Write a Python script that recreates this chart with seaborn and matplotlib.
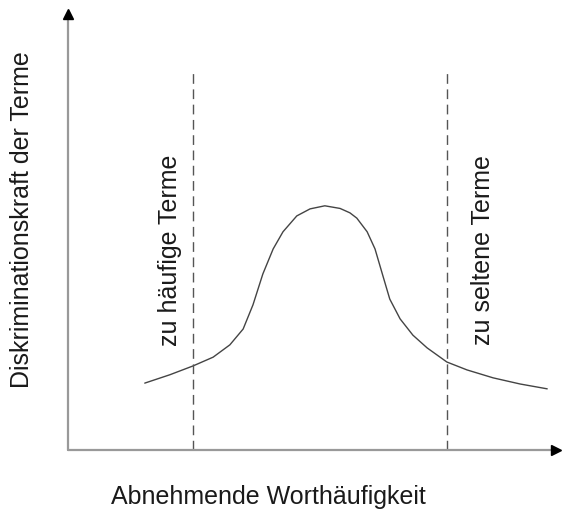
import numpy as np
import pandas as pd
import matplotlib.pyplot as plt
import seaborn as sns

# curve (x: word frequency rank, y: discrimination power), 0..100 scale
rank = [15.6, 20.7, 25.4, 29.5, 32.9, 35.6, 37.6, 39.6, 41.7, 43.7, 46.5,
        49.2, 52.2, 55.3, 57.3, 58.7, 60.8, 62.4, 64.0, 65.4, 67.5, 70.1,
        73.0, 77.0, 81.1, 86.4, 91.9, 97.4]
power = [15.2, 17.1, 19.1, 21.1, 23.9, 27.5, 33.0, 40.0, 45.7, 49.6, 53.2,
         54.8, 55.5, 54.9, 53.9, 52.7, 49.6, 45.7, 39.6, 34.3, 29.8, 26.1,
         23.2, 20.0, 18.2, 16.4, 15.0, 13.9]
cutoffs = [25.4, 77.0]
cutoff_top = 85.9
cutoff_labels = ['zu häufige Terme', 'zu seltene Terme']
label_x = ['Abnehmende Worthäufigkeit']
label_y = ['Diskriminationskraft der Terme']

df = pd.DataFrame({'rank': rank, 'power': power})

sns.set_style('white')
plt.rcParams['font.family'] = ['Liberation Sans', 'DejaVu Sans']

W, H = 565, 513
fig = plt.figure(figsize=(W / 100, H / 100), dpi=100)
ax = fig.add_axes([68 / W, (H - 450) / H, (560 - 68) / W, (450 - 10) / H])

sns.lineplot(data=df, x='rank', y='power', color='#444444', linewidth=1.0, ax=ax)
for c in cutoffs:
    ax.plot([c, c], [0, cutoff_top], color='#555555', linewidth=1.0,
            dashes=(7, 4))

ax.set_xlim(0, 100)
ax.set_ylim(0, 100)
ax.set_xticks([])
ax.set_yticks([])
ax.set_xlabel('')
ax.set_ylabel('')
for s in ax.spines.values():
    s.set_visible(False)

# axis lines with arrow heads
axis_col = '#999999'
ax.plot([0, 0.985], [0, 0], color=axis_col, lw=1.6, transform=ax.transAxes, clip_on=False)
ax.plot([0, 0], [0, 0.985], color=axis_col, lw=1.6, transform=ax.transAxes, clip_on=False)
ax.plot(0.992, 0, marker='>', color='black', markersize=7, transform=ax.transAxes, clip_on=False)
ax.plot(0, 0.99, marker='^', color='black', markersize=7, transform=ax.transAxes, clip_on=False)

tcol = '#1a1a1a'
fs = 18
ax.text((170 - 68) / 4.92, (450 - 250) / 4.4, cutoff_labels[0], rotation=90,
        ha='center', va='center', fontsize=fs, color=tcol)
ax.text((483 - 68) / 4.92, (450 - 250) / 4.4, cutoff_labels[1], rotation=90,
        ha='center', va='center', fontsize=fs, color=tcol)

fig.text(268 / W, 1 - 497 / H, label_x[0], ha='center', va='center', fontsize=fs, color=tcol)
fig.text(22 / W, 1 - 220 / H, label_y[0], rotation=90, ha='center', va='center',
         fontsize=fs, color=tcol)

fig.savefig('out.png', dpi=100, facecolor='white')
